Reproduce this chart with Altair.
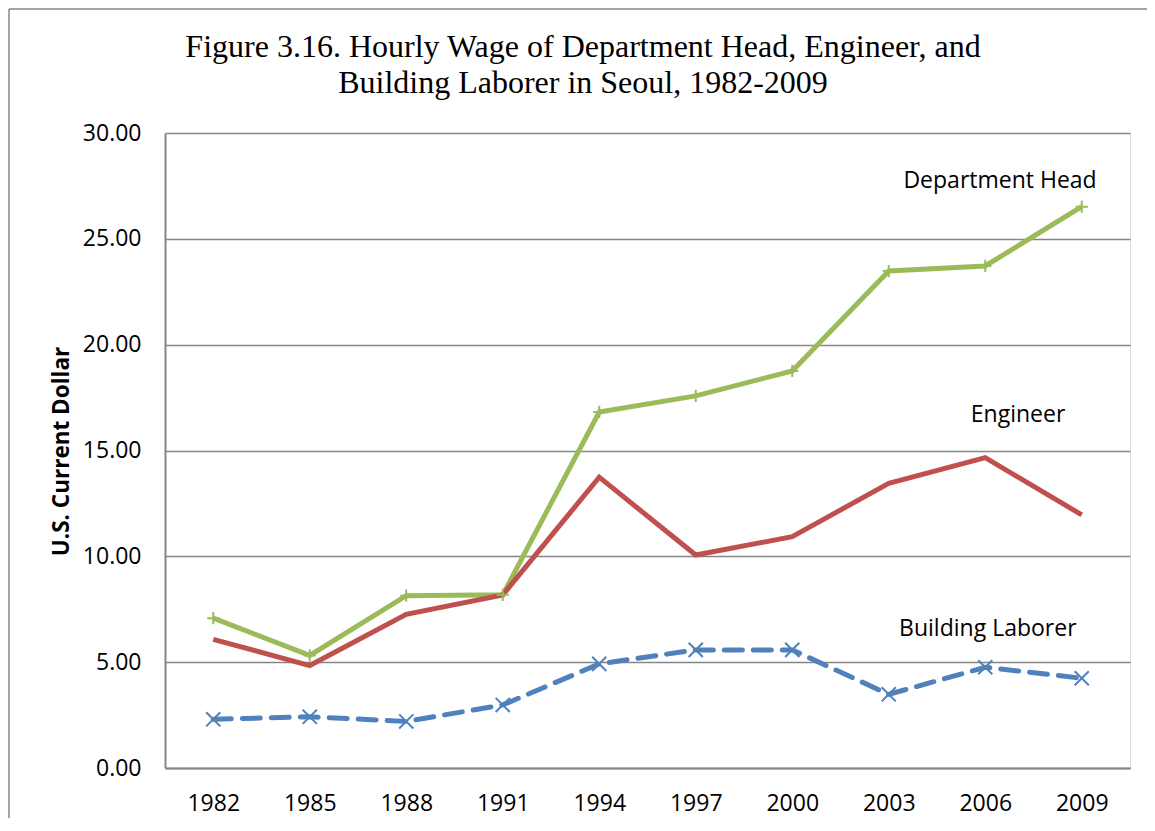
import altair as alt
import pandas as pd

years = [1982, 1985, 1988, 1991, 1994, 1997, 2000, 2003, 2006, 2009]
dept_head = [7.08, 5.32, 8.14, 8.18, 16.82, 17.58, 18.76, 23.48, 23.72, 26.52]
engineer = [6.08, 4.84, 7.26, 8.18, 13.74, 10.06, 10.93, 13.45, 14.66, 11.96]
laborer = [2.30, 2.42, 2.20, 2.98, 4.92, 5.58, 5.58, 3.48, 4.76, 4.24]

label_text = ["Department Head", "Engineer", "Building Laborer"]
label_year = [2006.46, 2007.02, 2006.08]
label_value = [27.73, 16.68, 6.57]

title_lines = ["Figure 3.16. Hourly Wage of Department Head, Engineer, and",
               "Building Laborer in Seoul, 1982-2009"]
y_title = "U.S. Current Dollar"

GREEN = "#9BBB59"
RED = "#C0504D"
BLUE = "#4F81BD"
GRID = "#868686"

df_dh = pd.DataFrame({"year": years, "value": dept_head})
df_en = pd.DataFrame({"year": years, "value": engineer})
df_bl = pd.DataFrame({"year": years, "value": laborer})
df_lab = pd.DataFrame({"label": label_text, "year": label_year, "value": label_value})
one = pd.DataFrame({"a": [0]})

x_enc = alt.X("year:Q", scale=alt.Scale(domain=[1980.5, 2010.5], nice=False, zero=False),
              axis=alt.Axis(values=years, format="d", title=None, grid=False, ticks=False,
                            labelFont="Open Sans", labelFontSize=23, labelColor="black",
                            labelPadding=24, domainColor=GRID, domainWidth=2))
y_enc = alt.Y("value:Q", scale=alt.Scale(domain=[0, 30], nice=False),
              axis=alt.Axis(values=[0, 5, 10, 15, 20, 25, 30], format=".2f", title=y_title,
                            ticks=False, grid=True, gridColor=GRID, gridWidth=1.5,
                            labelFont="Open Sans", labelFontSize=23, labelColor="black",
                            labelPadding=24, domainColor=GRID, domainWidth=2,
                            titleFont="Open Sans", titleFontSize=22.5, titleFontWeight="bold",
                            titleColor="black", titleX=-104, titleY=318,
                            titleAlign="center", titleBaseline="middle"))

base_x = alt.X("year:Q")
base_y = alt.Y("value:Q")

line_dh = alt.Chart(df_dh).mark_line(color=GREEN, strokeWidth=5).encode(x=x_enc, y=y_enc)
line_en = alt.Chart(df_en).mark_line(color=RED, strokeWidth=5).encode(x=base_x, y=base_y)
line_bl = alt.Chart(df_bl).mark_line(color=BLUE, strokeWidth=5, strokeDash=[18, 11],
                                     strokeCap="round").encode(x=base_x, y=base_y)

plus_path = "M-1,0H1M0,-1V1"
x_path = "M-1,-1L1,1M-1,1L1,-1"
pts_dh = alt.Chart(df_dh).mark_point(shape=plus_path, size=150, filled=False, color=GREEN,
                                     strokeWidth=2, opacity=1).encode(x=base_x, y=base_y)
pts_bl = alt.Chart(df_bl).mark_point(shape=x_path, size=200, filled=False, color=BLUE,
                                     strokeWidth=2, opacity=1).encode(x=base_x, y=base_y)

labels = alt.Chart(df_lab).mark_text(font="Open Sans", fontSize=23, color="black",
                                     align="center", baseline="middle").encode(
    x=base_x, y=base_y, text="label:N")

title1 = alt.Chart(one).mark_text(font="Liberation Serif", fontSize=32, color="black",
                                  align="center", baseline="alphabetic").encode(
    x=alt.value(418), y=alt.value(-76), text=alt.value(title_lines[0]))
title2 = alt.Chart(one).mark_text(font="Liberation Serif", fontSize=32, color="black",
                                  align="center", baseline="alphabetic").encode(
    x=alt.value(418), y=alt.value(-40), text=alt.value(title_lines[1]))

frame_top = alt.Chart(one).mark_rule(color=GRID, strokeWidth=1.5).encode(
    x=alt.value(-156), x2=alt.value(1200), y=alt.value(-124))
frame_left = alt.Chart(one).mark_rule(color=GRID, strokeWidth=1.5).encode(
    x=alt.value(-156), y=alt.value(-124), y2=alt.value(900))

chart = alt.layer(frame_top, frame_left, line_dh, line_en, line_bl, pts_dh, pts_bl, labels,
                  title1, title2).properties(
    width=965, height=635,
    padding={"left": 157, "top": 125, "right": 17, "bottom": 50},
    autosize=alt.AutoSizeParams(type="none"),
).configure_view(stroke=None).configure(background="white")

chart.save("out.html", embed_options={"renderer": "svg", "actions": False})
